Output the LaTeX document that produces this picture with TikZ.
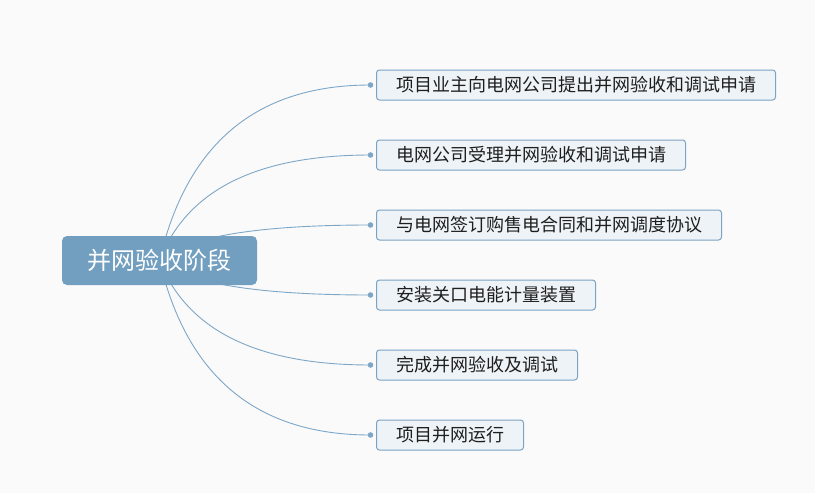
\documentclass[tikz,border=0pt]{standalone}
\usepackage{fontspec}
\setmainfont{Noto Sans CJK SC}
\definecolor{bg}{HTML}{FAFAFA}
\definecolor{mainfill}{HTML}{729FBF}
\definecolor{boxfill}{HTML}{EEF3F7}
\definecolor{boxline}{HTML}{7BA3C4}
\definecolor{conncol}{HTML}{7EA6C6}
\definecolor{txt}{HTML}{1E1E1E}
\tikzset{
  mainnode/.style={rounded corners=5pt, fill=mainfill, text=white, minimum width=195pt, minimum height=49pt, font=\fontsize{24pt}{28pt}\selectfont, inner sep=0pt},
  childbox/.style={draw=boxline, line width=1pt, fill=boxfill, rounded corners=3pt, anchor=west, minimum height=30pt, inner xsep=19.5pt, inner ysep=0pt, text=txt, font=\fontsize{18pt}{22pt}\selectfont},
  conn/.style={draw=conncol, line width=0.9pt},
  enddot/.style={fill=conncol}
}
\begin{document}
\begin{tikzpicture}[x=1pt,y=-1pt]
\fill[bg] (0,0) rectangle (815,493);
\useasboundingbox (0,0) rectangle (815,493);
\coordinate (o) at (159.5,260.5);
\coordinate (d1) at (370.5,85);
\coordinate (d2) at (370.5,155);
\coordinate (d3) at (370.5,225);
\coordinate (d4) at (370.5,295);
\coordinate (d5) at (370.5,365);
\coordinate (d6) at (370.5,435);
\draw[conn] (o) .. controls (186.7,143.3) and (256.7,85) .. (d1);
\draw[conn] (o) .. controls (186.7,190) and (256.7,155) .. (d2);
\draw[conn] (o) .. controls (186.7,236.7) and (256.7,225) .. (d3);
\draw[conn] (o) .. controls (186.7,283.3) and (256.7,295) .. (d4);
\draw[conn] (o) .. controls (186.7,330) and (256.7,365) .. (d5);
\draw[conn] (o) .. controls (186.7,376.7) and (256.7,435) .. (d6);
\foreach \d in {d1,d2,d3,d4,d5,d6} \fill[enddot] (\d) circle (2.8pt);
\node[mainnode] (c) at (o) {并网验收阶段};
\node[childbox] (b1) at (376,85) {项目业主向电网公司提出并网验收和调试申请};
\node[childbox] (b2) at (376,155) {电网公司受理并网验收和调试申请};
\node[childbox] (b3) at (376,225) {与电网签订购售电合同和并网调度协议};
\node[childbox] (b4) at (376,295) {安装关口电能计量装置};
\node[childbox] (b5) at (376,365) {完成并网验收及调试};
\node[childbox] (b6) at (376,435) {项目并网运行};
\end{tikzpicture}
\end{document}
